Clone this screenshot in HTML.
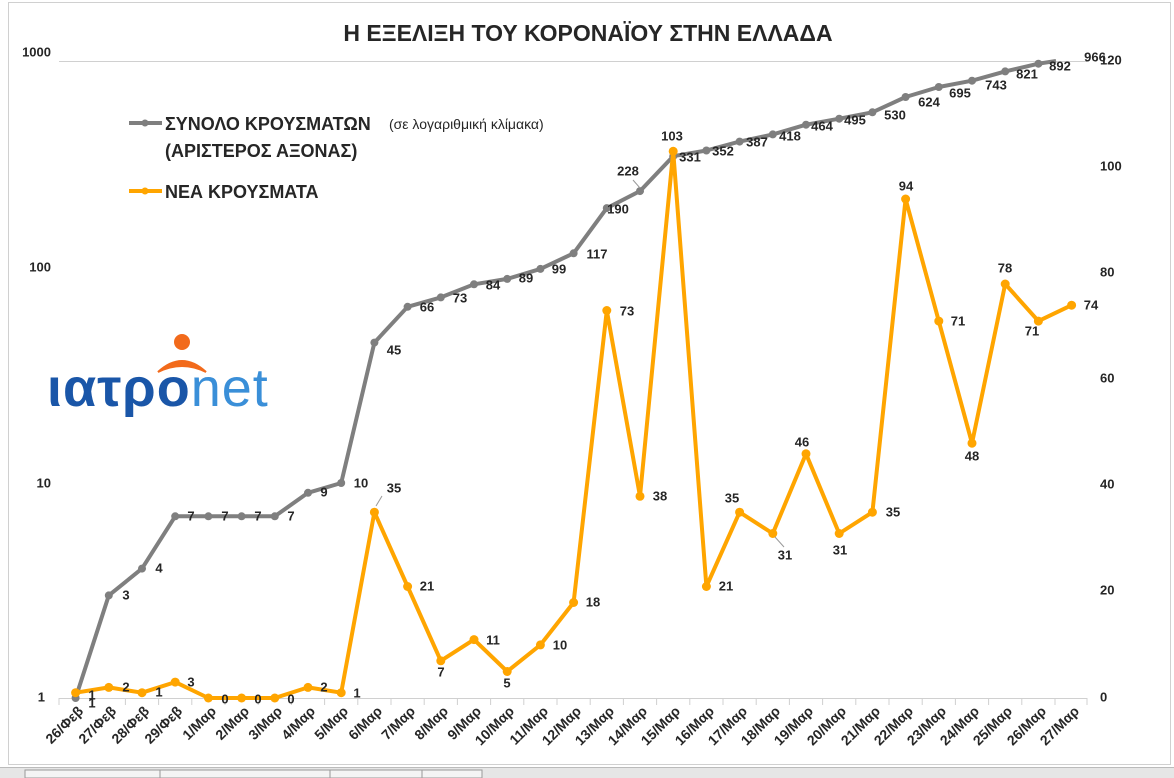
<!DOCTYPE html>
<html><head><meta charset="utf-8"><style>
html,body{margin:0;padding:0;background:#fff;}
svg{display:block;font-family:"Liberation Sans","DejaVu Sans",sans-serif;}
.l{font-size:13px;font-weight:bold;fill:#262626;dominant-baseline:middle;text-anchor:middle;}
.ax{font-size:13px;font-weight:bold;fill:#262626;dominant-baseline:middle;}
.xl{font-size:14px;font-weight:bold;fill:#262626;text-anchor:end;}
</style></head><body>
<svg width="1174" height="778" viewBox="0 0 1174 778">
<rect x="0" y="0" width="1174" height="778" fill="#fff"/>
<rect x="8.5" y="2.5" width="1162" height="762" fill="none" stroke="#d0d0d0"/>
<rect x="0" y="767" width="1174" height="11" fill="#e6e6e6"/>
<line x1="0" y1="767.5" x2="1174" y2="767.5" stroke="#bbb"/>
<rect x="25" y="770" width="135" height="8" fill="#f4f4f4" stroke="#999"/>
<rect x="160" y="770" width="170" height="8" fill="#f4f4f4" stroke="#999"/>
<rect x="330" y="770" width="92" height="8" fill="#f4f4f4" stroke="#999"/>
<rect x="422" y="770" width="60" height="8" fill="#f4f4f4" stroke="#999"/>
<text x="588" y="41" text-anchor="middle" font-size="23" font-weight="bold" fill="#262626">Η ΕΞΕΛΙΞΗ ΤΟΥ ΚΟΡΟΝΑΪΟΥ ΣΤΗΝ ΕΛΛΑΔΑ</text>
<line x1="59" y1="61.5" x2="1087" y2="61.5" stroke="#d0d0d0"/>
<line x1="59" y1="698.5" x2="1087" y2="698.5" stroke="#d0d0d0"/>
<g stroke="#d0d0d0">
<line x1="59" y1="698" x2="59" y2="705"/><line x1="92.2" y1="698" x2="92.2" y2="705"/><line x1="125.4" y1="698" x2="125.4" y2="705"/><line x1="158.6" y1="698" x2="158.6" y2="705"/><line x1="191.8" y1="698" x2="191.8" y2="705"/><line x1="225" y1="698" x2="225" y2="705"/><line x1="258.2" y1="698" x2="258.2" y2="705"/><line x1="291.4" y1="698" x2="291.4" y2="705"/><line x1="324.6" y1="698" x2="324.6" y2="705"/><line x1="357.8" y1="698" x2="357.8" y2="705"/><line x1="391" y1="698" x2="391" y2="705"/><line x1="424.2" y1="698" x2="424.2" y2="705"/><line x1="457.4" y1="698" x2="457.4" y2="705"/><line x1="490.6" y1="698" x2="490.6" y2="705"/><line x1="523.8" y1="698" x2="523.8" y2="705"/><line x1="557" y1="698" x2="557" y2="705"/><line x1="590.2" y1="698" x2="590.2" y2="705"/><line x1="623.4" y1="698" x2="623.4" y2="705"/><line x1="656.6" y1="698" x2="656.6" y2="705"/><line x1="689.8" y1="698" x2="689.8" y2="705"/><line x1="723" y1="698" x2="723" y2="705"/><line x1="756.2" y1="698" x2="756.2" y2="705"/><line x1="789.4" y1="698" x2="789.4" y2="705"/><line x1="822.6" y1="698" x2="822.6" y2="705"/><line x1="855.8" y1="698" x2="855.8" y2="705"/><line x1="889" y1="698" x2="889" y2="705"/><line x1="922.2" y1="698" x2="922.2" y2="705"/><line x1="955.4" y1="698" x2="955.4" y2="705"/><line x1="988.6" y1="698" x2="988.6" y2="705"/><line x1="1021.8" y1="698" x2="1021.8" y2="705"/><line x1="1055" y1="698" x2="1055" y2="705"/><line x1="1087" y1="698" x2="1087" y2="705"/>
</g>
<text class="ax" x="51" y="53" text-anchor="end">1000</text>
<text class="ax" x="51" y="268" text-anchor="end">100</text>
<text class="ax" x="51" y="484" text-anchor="end">10</text>
<text class="ax" x="45" y="698" text-anchor="end">1</text>
<text class="ax" x="1100" y="61">120</text>
<text class="ax" x="1100" y="167">100</text>
<text class="ax" x="1100" y="273">80</text>
<text class="ax" x="1100" y="379">60</text>
<text class="ax" x="1100" y="485">40</text>
<text class="ax" x="1100" y="591">20</text>
<text class="ax" x="1100" y="698">0</text>
<g class="xl">
<text transform="translate(84,712) rotate(-45)">26/Φεβ</text>
<text transform="translate(117,712) rotate(-45)">27/Φεβ</text>
<text transform="translate(150,712) rotate(-45)">28/Φεβ</text>
<text transform="translate(183,712) rotate(-45)">29/Φεβ</text>
<text transform="translate(217,712) rotate(-45)">1/Μαρ</text>
<text transform="translate(250,712) rotate(-45)">2/Μαρ</text>
<text transform="translate(283,712) rotate(-45)">3/Μαρ</text>
<text transform="translate(316,712) rotate(-45)">4/Μαρ</text>
<text transform="translate(349,712) rotate(-45)">5/Μαρ</text>
<text transform="translate(383,712) rotate(-45)">6/Μαρ</text>
<text transform="translate(416,712) rotate(-45)">7/Μαρ</text>
<text transform="translate(449,712) rotate(-45)">8/Μαρ</text>
<text transform="translate(482,712) rotate(-45)">9/Μαρ</text>
<text transform="translate(515,712) rotate(-45)">10/Μαρ</text>
<text transform="translate(549,712) rotate(-45)">11/Μαρ</text>
<text transform="translate(582,712) rotate(-45)">12/Μαρ</text>
<text transform="translate(615,712) rotate(-45)">13/Μαρ</text>
<text transform="translate(648,712) rotate(-45)">14/Μαρ</text>
<text transform="translate(681,712) rotate(-45)">15/Μαρ</text>
<text transform="translate(715,712) rotate(-45)">16/Μαρ</text>
<text transform="translate(748,712) rotate(-45)">17/Μαρ</text>
<text transform="translate(781,712) rotate(-45)">18/Μαρ</text>
<text transform="translate(814,712) rotate(-45)">19/Μαρ</text>
<text transform="translate(847,712) rotate(-45)">20/Μαρ</text>
<text transform="translate(881,712) rotate(-45)">21/Μαρ</text>
<text transform="translate(914,712) rotate(-45)">22/Μαρ</text>
<text transform="translate(947,712) rotate(-45)">23/Μαρ</text>
<text transform="translate(980,712) rotate(-45)">24/Μαρ</text>
<text transform="translate(1013,712) rotate(-45)">25/Μαρ</text>
<text transform="translate(1047,712) rotate(-45)">26/Μαρ</text>
<text transform="translate(1080,712) rotate(-45)">27/Μαρ</text>
</g>
<polyline fill="none" stroke="#7f7f7f" stroke-width="4" stroke-linejoin="round" points="75.6,698 108.8,595.4 142,568.6 175.2,516.3 208.4,516.3 241.6,516.3 274.8,516.3 308,492.8 341.2,483 374.4,342.6 407.6,306.8 440.8,297.4 474,284.3 507.2,278.9 540.4,268.9 573.6,253.3 606.8,208.1 640,191.1 673.2,156.2 706.4,150.5 739.6,141.6 772.8,134.4 806,124.7 839.2,118.7 872.4,112.3 905.6,97 938.8,87 972,80.7 1005.2,71.4 1038.4,63.7 1056,61"/>
<g fill="#7f7f7f">
<circle cx="75.6" cy="698" r="4"/><circle cx="108.8" cy="595.4" r="4"/><circle cx="142" cy="568.6" r="4"/><circle cx="175.2" cy="516.3" r="4"/><circle cx="208.4" cy="516.3" r="4"/><circle cx="241.6" cy="516.3" r="4"/><circle cx="274.8" cy="516.3" r="4"/><circle cx="308" cy="492.8" r="4"/><circle cx="341.2" cy="483" r="4"/><circle cx="374.4" cy="342.6" r="4"/><circle cx="407.6" cy="306.8" r="4"/><circle cx="440.8" cy="297.4" r="4"/><circle cx="474" cy="284.3" r="4"/><circle cx="507.2" cy="278.9" r="4"/><circle cx="540.4" cy="268.9" r="4"/><circle cx="573.6" cy="253.3" r="4"/><circle cx="606.8" cy="208.1" r="4"/><circle cx="640" cy="191.1" r="4"/><circle cx="673.2" cy="156.2" r="4"/><circle cx="706.4" cy="150.5" r="4"/><circle cx="739.6" cy="141.6" r="4"/><circle cx="772.8" cy="134.4" r="4"/><circle cx="806" cy="124.7" r="4"/><circle cx="839.2" cy="118.7" r="4"/><circle cx="872.4" cy="112.3" r="4"/><circle cx="905.6" cy="97" r="4"/><circle cx="938.8" cy="87" r="4"/><circle cx="972" cy="80.7" r="4"/><circle cx="1005.2" cy="71.4" r="4"/><circle cx="1038.4" cy="63.7" r="4"/>
</g>
<polyline fill="none" stroke="#ffa500" stroke-width="4" stroke-linejoin="round" points="75.6,692.7 108.8,687.4 142,692.7 175.2,682.1 208.4,698 241.6,698 274.8,698 308,687.4 341.2,692.7 374.4,512.2 407.6,586.5 440.8,660.8 474,639.6 507.2,671.5 540.4,644.9 573.6,602.5 606.8,310.5 640,496.3 673.2,151.3 706.4,586.5 739.6,512.2 772.8,533.5 806,453.8 839.2,533.5 872.4,512.2 905.6,199 938.8,321.1 972,443.2 1005.2,284 1038.4,321.1 1071.6,305.2"/>
<g fill="#ffa500">
<circle cx="75.6" cy="692.7" r="4.5"/><circle cx="108.8" cy="687.4" r="4.5"/><circle cx="142" cy="692.7" r="4.5"/><circle cx="175.2" cy="682.1" r="4.5"/><circle cx="208.4" cy="698" r="4.5"/><circle cx="241.6" cy="698" r="4.5"/><circle cx="274.8" cy="698" r="4.5"/><circle cx="308" cy="687.4" r="4.5"/><circle cx="341.2" cy="692.7" r="4.5"/><circle cx="374.4" cy="512.2" r="4.5"/><circle cx="407.6" cy="586.5" r="4.5"/><circle cx="440.8" cy="660.8" r="4.5"/><circle cx="474" cy="639.6" r="4.5"/><circle cx="507.2" cy="671.5" r="4.5"/><circle cx="540.4" cy="644.9" r="4.5"/><circle cx="573.6" cy="602.5" r="4.5"/><circle cx="606.8" cy="310.5" r="4.5"/><circle cx="640" cy="496.3" r="4.5"/><circle cx="673.2" cy="151.3" r="4.5"/><circle cx="706.4" cy="586.5" r="4.5"/><circle cx="739.6" cy="512.2" r="4.5"/><circle cx="772.8" cy="533.5" r="4.5"/><circle cx="806" cy="453.8" r="4.5"/><circle cx="839.2" cy="533.5" r="4.5"/><circle cx="872.4" cy="512.2" r="4.5"/><circle cx="905.6" cy="199" r="4.5"/><circle cx="938.8" cy="321.1" r="4.5"/><circle cx="972" cy="443.2" r="4.5"/><circle cx="1005.2" cy="284" r="4.5"/><circle cx="1038.4" cy="321.1" r="4.5"/><circle cx="1071.6" cy="305.2" r="4.5"/>
</g>
<g stroke="#999" stroke-width="1"><line x1="376" y1="506" x2="382" y2="496"/><line x1="775" y1="537" x2="784" y2="547"/><line x1="633" y1="180" x2="640" y2="188"/></g>
<g class="l">
<text x="92" y="704">1</text><text x="126" y="596">3</text><text x="159" y="569">4</text><text x="191" y="517">7</text><text x="225" y="517">7</text><text x="258" y="517">7</text><text x="291" y="517">7</text><text x="324" y="493">9</text><text x="361" y="484">10</text><text x="394" y="351">45</text><text x="427" y="308">66</text><text x="460" y="299">73</text><text x="493" y="286">84</text><text x="526" y="279">89</text><text x="559" y="270">99</text><text x="597" y="255">117</text><text x="618" y="210">190</text><text x="628" y="172">228</text><text x="690" y="158">331</text><text x="723" y="152">352</text><text x="757" y="143">387</text><text x="790" y="137">418</text><text x="822" y="127">464</text><text x="855" y="121">495</text><text x="895" y="116">530</text><text x="929" y="103">624</text><text x="960" y="94">695</text><text x="996" y="86">743</text><text x="1027" y="75">821</text><text x="1060" y="67">892</text><text x="1095" y="58">966</text>
</g>
<g class="l">
<text x="92" y="696">1</text><text x="126" y="688">2</text><text x="159" y="693">1</text><text x="191" y="683">3</text><text x="225" y="700">0</text><text x="258" y="700">0</text><text x="291" y="700">0</text><text x="324" y="688">2</text><text x="357" y="694">1</text><text x="394" y="489">35</text><text x="427" y="587">21</text><text x="441" y="673">7</text><text x="493" y="641">11</text><text x="507" y="684">5</text><text x="560" y="646">10</text><text x="593" y="603">18</text><text x="627" y="312">73</text><text x="660" y="497">38</text><text x="672" y="137">103</text><text x="726" y="587">21</text><text x="732" y="499">35</text><text x="785" y="556">31</text><text x="802" y="443">46</text><text x="840" y="551">31</text><text x="893" y="513">35</text><text x="906" y="187">94</text><text x="958" y="322">71</text><text x="972" y="457">48</text><text x="1005" y="269">78</text><text x="1032" y="332">71</text><text x="1091" y="306">74</text>
</g>
<line x1="129" y1="123" x2="162" y2="123" stroke="#7f7f7f" stroke-width="4"/><circle cx="145" cy="123" r="3.5" fill="#7f7f7f"/>
<text x="165" y="130" font-size="18" font-weight="bold" fill="#262626">ΣΥΝΟΛΟ ΚΡΟΥΣΜΑΤΩΝ</text>
<text x="389" y="129" font-size="14" fill="#262626">(σε λογαριθμική κλίμακα)</text>
<text x="165" y="157" font-size="18" font-weight="bold" fill="#262626">(ΑΡΙΣΤΕΡΟΣ ΑΞΟΝΑΣ)</text>
<line x1="129" y1="191" x2="162" y2="191" stroke="#ffa500" stroke-width="4"/><circle cx="145" cy="191" r="3.5" fill="#ffa500"/>
<text x="165" y="198" font-size="18" font-weight="bold" fill="#262626">ΝΕΑ ΚΡΟΥΣΜΑΤΑ</text>
<circle cx="182" cy="342" r="8" fill="#f26a1b"/>
<path d="M158 372 Q182 350 206 372 Q182 360 158 372 Z" fill="#f26a1b" stroke="#f26a1b" stroke-width="2"/>
<text x="47" y="406" font-size="54" font-weight="bold" fill="#1a56a8" letter-spacing="1">ιατρο<tspan fill="#3a8fd8" font-weight="normal">net</tspan></text>
</svg>
</body></html>
